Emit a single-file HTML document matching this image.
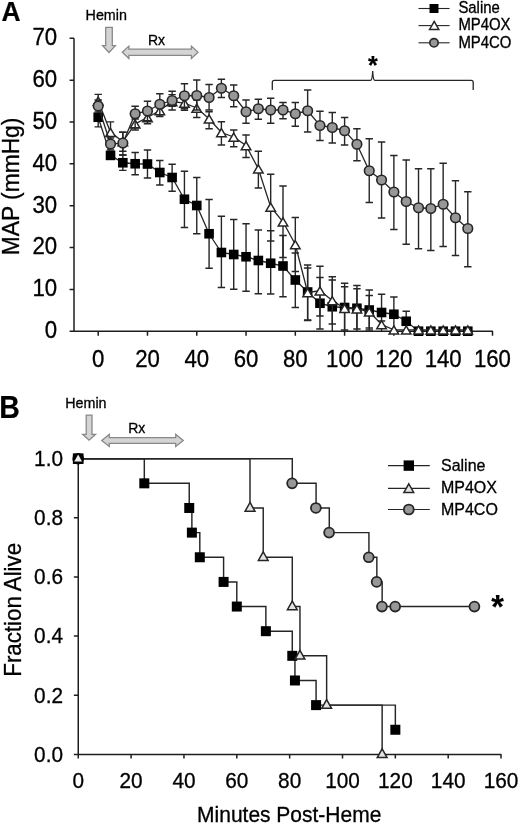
<!DOCTYPE html>
<html><head><meta charset="utf-8"><title>Figure</title>
<style>
html,body{margin:0;padding:0;background:#fff;}
body{width:520px;height:825px;position:relative;overflow:hidden;font-family:"Liberation Sans",sans-serif;}
</style></head><body>
<svg width="520" height="825" viewBox="0 0 520 825" style="position:absolute;left:0;top:0;will-change:transform">
<rect width="520" height="825" fill="#fff"/>
<path d="M74.0 38.3V331.25M69.6 331.25H492.5V335.65M69.60 331.25H74.0M69.60 289.40H74.0M69.60 247.55H74.0M69.60 205.70H74.0M69.60 163.85H74.0M69.60 122.00H74.0M69.60 80.15H74.0M69.60 38.30H74.0M98.20 331.25v4.5M147.48 331.25v4.5M196.76 331.25v4.5M246.04 331.25v4.5M295.32 331.25v4.5M344.60 331.25v4.5M393.88 331.25v4.5M443.16 331.25v4.5" fill="none" stroke="#1e1e1e" stroke-width="1.5" stroke-linejoin="round"/>
<path d="M98.20 107.60V126.90M94.50 107.60H101.90M94.50 126.90H101.90M110.52 152.50V158.30M106.82 152.50H114.22M106.82 158.30H114.22M122.84 155.00V170.40M119.14 155.00H126.54M119.14 170.40H126.54M135.16 152.50V174.75M131.46 152.50H138.86M131.46 174.75H138.86M147.48 150.00V178.00M143.78 150.00H151.18M143.78 178.00H151.18M159.80 160.50V185.00M156.10 160.50H163.50M156.10 185.00H163.50M172.12 164.25V191.25M168.42 164.25H175.82M168.42 191.25H175.82M184.44 171.25V227.50M180.74 171.25H188.14M180.74 227.50H188.14M196.76 177.50V233.75M193.06 177.50H200.46M193.06 233.75H200.46M209.08 199.50V268.25M205.38 199.50H212.78M205.38 268.25H212.78M221.40 216.25V287.50M217.70 216.25H225.10M217.70 287.50H225.10M233.72 219.50V289.25M230.02 219.50H237.42M230.02 289.25H237.42M246.04 223.75V291.25M242.34 223.75H249.74M242.34 291.25H249.74M258.36 230.00V293.75M254.66 230.00H262.06M254.66 293.75H262.06M270.68 230.75V294.00M266.98 230.75H274.38M266.98 294.00H274.38M283.00 235.50V296.75M279.30 235.50H286.70M279.30 296.75H286.70M295.32 253.00V307.50M291.62 253.00H299.02M291.62 307.50H299.02M307.64 268.00V320.50M303.94 268.00H311.34M303.94 320.50H311.34M319.96 277.50V329.00M316.26 277.50H323.66M316.26 329.00H323.66M332.28 280.00V331.00M328.58 280.00H335.98M344.60 283.25V331.00M340.90 283.25H348.30M356.92 285.50V331.00M353.22 285.50H360.62M369.24 290.00V330.00M365.54 290.00H372.94M365.54 330.00H372.94M381.56 294.25V331.00M377.86 294.25H385.26M393.88 297.00V331.00M390.18 297.00H397.58M406.20 311.25V331.00M402.50 311.25H409.90" fill="none" stroke="#262626" stroke-width="1.4"/>
<polyline points="98.20,117.25 110.52,155.40 122.84,162.75 135.16,163.75 147.48,164.00 159.80,172.50 172.12,177.50 184.44,199.25 196.76,205.50 209.08,233.75 221.40,252.50 233.72,254.50 246.04,256.75 258.36,260.50 270.68,263.25 283.00,266.00 295.32,280.00 307.64,292.00 319.96,303.25 332.28,306.75 344.60,307.50 356.92,308.25 369.24,310.00 381.56,312.50 393.88,314.25 406.20,321.25 418.52,331.20 430.84,331.20 443.16,331.20 455.48,331.20 467.80,331.20" fill="none" stroke="#262626" stroke-width="1.3"/>
<rect x="93.40" y="112.45" width="9.6" height="9.6" fill="#000"/>
<rect x="105.72" y="150.60" width="9.6" height="9.6" fill="#000"/>
<rect x="118.04" y="157.95" width="9.6" height="9.6" fill="#000"/>
<rect x="130.36" y="158.95" width="9.6" height="9.6" fill="#000"/>
<rect x="142.68" y="159.20" width="9.6" height="9.6" fill="#000"/>
<rect x="155.00" y="167.70" width="9.6" height="9.6" fill="#000"/>
<rect x="167.32" y="172.70" width="9.6" height="9.6" fill="#000"/>
<rect x="179.64" y="194.45" width="9.6" height="9.6" fill="#000"/>
<rect x="191.96" y="200.70" width="9.6" height="9.6" fill="#000"/>
<rect x="204.28" y="228.95" width="9.6" height="9.6" fill="#000"/>
<rect x="216.60" y="247.70" width="9.6" height="9.6" fill="#000"/>
<rect x="228.92" y="249.70" width="9.6" height="9.6" fill="#000"/>
<rect x="241.24" y="251.95" width="9.6" height="9.6" fill="#000"/>
<rect x="253.56" y="255.70" width="9.6" height="9.6" fill="#000"/>
<rect x="265.88" y="258.45" width="9.6" height="9.6" fill="#000"/>
<rect x="278.20" y="261.20" width="9.6" height="9.6" fill="#000"/>
<rect x="290.52" y="275.20" width="9.6" height="9.6" fill="#000"/>
<rect x="302.84" y="287.20" width="9.6" height="9.6" fill="#000"/>
<rect x="315.16" y="298.45" width="9.6" height="9.6" fill="#000"/>
<rect x="327.48" y="301.95" width="9.6" height="9.6" fill="#000"/>
<rect x="339.80" y="302.70" width="9.6" height="9.6" fill="#000"/>
<rect x="352.12" y="303.45" width="9.6" height="9.6" fill="#000"/>
<rect x="364.44" y="305.20" width="9.6" height="9.6" fill="#000"/>
<rect x="376.76" y="307.70" width="9.6" height="9.6" fill="#000"/>
<rect x="389.08" y="309.45" width="9.6" height="9.6" fill="#000"/>
<rect x="401.40" y="316.45" width="9.6" height="9.6" fill="#000"/>
<rect x="413.72" y="326.40" width="9.6" height="9.6" fill="#000"/>
<rect x="426.04" y="326.40" width="9.6" height="9.6" fill="#000"/>
<rect x="438.36" y="326.40" width="9.6" height="9.6" fill="#000"/>
<rect x="450.68" y="326.40" width="9.6" height="9.6" fill="#000"/>
<rect x="463.00" y="326.40" width="9.6" height="9.6" fill="#000"/>
<path d="M98.20 94.40V107.60M94.50 94.40H101.90M94.50 107.60H101.90M110.52 121.90V141.90M106.82 121.90H114.22M106.82 141.90H114.22M122.84 132.25V151.25M119.14 132.25H126.54M119.14 151.25H126.54M135.16 119.00V130.00M131.46 119.00H138.86M131.46 130.00H138.86M147.48 111.00V123.75M143.78 111.00H151.18M143.78 123.75H151.18M159.80 105.00V116.50M156.10 105.00H163.50M156.10 116.50H163.50M172.12 94.60V106.30M168.42 94.60H175.82M168.42 106.30H175.82M184.44 97.50V110.30M180.74 97.50H188.14M180.74 110.30H188.14M196.76 100.00V117.50M193.06 100.00H200.46M193.06 117.50H200.46M209.08 111.75V128.75M205.38 111.75H212.78M205.38 128.75H212.78M221.40 121.75V145.00M217.70 121.75H225.10M217.70 145.00H225.10M233.72 130.00V146.75M230.02 130.00H237.42M230.02 146.75H237.42M246.04 135.00V157.50M242.34 135.00H249.74M242.34 157.50H249.74M258.36 151.25V188.00M254.66 151.25H262.06M254.66 188.00H262.06M270.68 174.25V241.00M266.98 174.25H274.38M266.98 241.00H274.38M283.00 186.00V257.50M279.30 186.00H286.70M279.30 257.50H286.70M295.32 217.50V271.50M291.62 217.50H299.02M291.62 271.50H299.02M307.64 265.00V320.00M303.94 265.00H311.34M303.94 320.00H311.34M319.96 266.25V316.00M316.26 266.25H323.66M316.26 316.00H323.66M332.28 276.75V324.00M328.58 276.75H335.98M328.58 324.00H335.98M344.60 286.75V330.00M340.90 286.75H348.30M340.90 330.00H348.30M356.92 288.75V329.00M353.22 288.75H360.62M353.22 329.00H360.62M369.24 295.50V328.00M365.54 295.50H372.94M365.54 328.00H372.94M381.56 321.00V328.00M377.86 321.00H385.26M377.86 328.00H385.26" fill="none" stroke="#262626" stroke-width="1.4"/>
<polyline points="98.20,101.00 110.52,132.30 122.84,141.50 135.16,123.80 147.48,117.50 159.80,110.50 172.12,101.50 184.44,103.20 196.76,108.00 209.08,118.75 221.40,132.50 233.72,137.00 246.04,145.50 258.36,168.75 270.68,207.00 283.00,221.75 295.32,244.50 307.64,292.50 319.96,290.75 332.28,300.50 344.60,308.25 356.92,308.75 369.24,311.75 381.56,324.50 393.88,329.90 406.20,329.90 418.52,329.90 430.84,329.90 443.16,329.90 455.48,329.90 467.80,329.90" fill="none" stroke="#262626" stroke-width="1.3"/>
<path d="M98.20 97.03L102.95 105.13H93.45Z" fill="#fff" stroke="#262626" stroke-width="1.5" stroke-linejoin="miter"/>
<path d="M110.52 128.33L115.27 136.43H105.77Z" fill="#fff" stroke="#262626" stroke-width="1.5" stroke-linejoin="miter"/>
<path d="M122.84 137.53L127.59 145.63H118.09Z" fill="#fff" stroke="#262626" stroke-width="1.5" stroke-linejoin="miter"/>
<path d="M135.16 119.83L139.91 127.93H130.41Z" fill="#fff" stroke="#262626" stroke-width="1.5" stroke-linejoin="miter"/>
<path d="M147.48 113.53L152.23 121.63H142.73Z" fill="#fff" stroke="#262626" stroke-width="1.5" stroke-linejoin="miter"/>
<path d="M159.80 106.53L164.55 114.63H155.05Z" fill="#fff" stroke="#262626" stroke-width="1.5" stroke-linejoin="miter"/>
<path d="M172.12 97.53L176.87 105.63H167.37Z" fill="#fff" stroke="#262626" stroke-width="1.5" stroke-linejoin="miter"/>
<path d="M184.44 99.23L189.19 107.33H179.69Z" fill="#fff" stroke="#262626" stroke-width="1.5" stroke-linejoin="miter"/>
<path d="M196.76 104.03L201.51 112.13H192.01Z" fill="#fff" stroke="#262626" stroke-width="1.5" stroke-linejoin="miter"/>
<path d="M209.08 114.78L213.83 122.88H204.33Z" fill="#fff" stroke="#262626" stroke-width="1.5" stroke-linejoin="miter"/>
<path d="M221.40 128.53L226.15 136.63H216.65Z" fill="#fff" stroke="#262626" stroke-width="1.5" stroke-linejoin="miter"/>
<path d="M233.72 133.03L238.47 141.13H228.97Z" fill="#fff" stroke="#262626" stroke-width="1.5" stroke-linejoin="miter"/>
<path d="M246.04 141.53L250.79 149.63H241.29Z" fill="#fff" stroke="#262626" stroke-width="1.5" stroke-linejoin="miter"/>
<path d="M258.36 164.78L263.11 172.88H253.61Z" fill="#fff" stroke="#262626" stroke-width="1.5" stroke-linejoin="miter"/>
<path d="M270.68 203.03L275.43 211.13H265.93Z" fill="#fff" stroke="#262626" stroke-width="1.5" stroke-linejoin="miter"/>
<path d="M283.00 217.78L287.75 225.88H278.25Z" fill="#fff" stroke="#262626" stroke-width="1.5" stroke-linejoin="miter"/>
<path d="M295.32 240.53L300.07 248.63H290.57Z" fill="#fff" stroke="#262626" stroke-width="1.5" stroke-linejoin="miter"/>
<path d="M307.64 288.53L312.39 296.63H302.89Z" fill="#fff" stroke="#262626" stroke-width="1.5" stroke-linejoin="miter"/>
<path d="M319.96 286.78L324.71 294.88H315.21Z" fill="#fff" stroke="#262626" stroke-width="1.5" stroke-linejoin="miter"/>
<path d="M332.28 296.53L337.03 304.63H327.53Z" fill="#fff" stroke="#262626" stroke-width="1.5" stroke-linejoin="miter"/>
<path d="M344.60 304.28L349.35 312.38H339.85Z" fill="#fff" stroke="#262626" stroke-width="1.5" stroke-linejoin="miter"/>
<path d="M356.92 304.78L361.67 312.88H352.17Z" fill="#fff" stroke="#262626" stroke-width="1.5" stroke-linejoin="miter"/>
<path d="M369.24 307.78L373.99 315.88H364.49Z" fill="#fff" stroke="#262626" stroke-width="1.5" stroke-linejoin="miter"/>
<path d="M381.56 320.53L386.31 328.63H376.81Z" fill="#fff" stroke="#262626" stroke-width="1.5" stroke-linejoin="miter"/>
<path d="M393.88 325.93L398.63 334.03H389.13Z" fill="#fff" stroke="#262626" stroke-width="1.5" stroke-linejoin="miter"/>
<path d="M406.20 325.93L410.95 334.03H401.45Z" fill="#fff" stroke="#262626" stroke-width="1.5" stroke-linejoin="miter"/>
<path d="M418.52 325.93L423.27 334.03H413.77Z" fill="#fff" stroke="#262626" stroke-width="1.5" stroke-linejoin="miter"/>
<path d="M430.84 325.93L435.59 334.03H426.09Z" fill="#fff" stroke="#262626" stroke-width="1.5" stroke-linejoin="miter"/>
<path d="M443.16 325.93L447.91 334.03H438.41Z" fill="#fff" stroke="#262626" stroke-width="1.5" stroke-linejoin="miter"/>
<path d="M455.48 325.93L460.23 334.03H450.73Z" fill="#fff" stroke="#262626" stroke-width="1.5" stroke-linejoin="miter"/>
<path d="M467.80 325.93L472.55 334.03H463.05Z" fill="#fff" stroke="#262626" stroke-width="1.5" stroke-linejoin="miter"/>
<path d="M98.20 100.00V112.00M94.50 100.00H101.90M94.50 112.00H101.90M110.52 138.00V150.00M106.82 138.00H114.22M106.82 150.00H114.22M122.84 132.25V155.00M119.14 132.25H126.54M119.14 155.00H126.54M135.16 106.25V127.80M131.46 106.25H138.86M131.46 127.80H138.86M147.48 101.25V120.75M143.78 101.25H151.18M143.78 120.75H151.18M159.80 93.75V114.75M156.10 93.75H163.50M156.10 114.75H163.50M172.12 91.25V110.00M168.42 91.25H175.82M168.42 110.00H175.82M184.44 83.75V108.75M180.74 83.75H188.14M180.74 108.75H188.14M196.76 80.00V110.00M193.06 80.00H200.46M193.06 110.00H200.46M209.08 84.50V110.00M205.38 84.50H212.78M205.38 110.00H212.78M221.40 79.25V97.50M217.70 79.25H225.10M217.70 97.50H225.10M233.72 85.00V106.75M230.02 85.00H237.42M230.02 106.75H237.42M246.04 100.00V123.25M242.34 100.00H249.74M242.34 123.25H249.74M258.36 99.25V119.25M254.66 99.25H262.06M254.66 119.25H262.06M270.68 98.25V123.25M266.98 98.25H274.38M266.98 123.25H274.38M283.00 102.50V118.75M279.30 102.50H286.70M279.30 118.75H286.70M295.32 102.50V126.25M291.62 102.50H299.02M291.62 126.25H299.02M307.64 90.00V132.00M303.94 90.00H311.34M303.94 132.00H311.34M319.96 111.25V140.50M316.26 111.25H323.66M316.26 140.50H323.66M332.28 112.50V143.00M328.58 112.50H335.98M328.58 143.00H335.98M344.60 117.50V145.00M340.90 117.50H348.30M340.90 145.00H348.30M356.92 128.75V160.75M353.22 128.75H360.62M353.22 160.75H360.62M369.24 138.75V202.50M365.54 138.75H372.94M365.54 202.50H372.94M381.56 142.00V218.00M377.86 142.00H385.26M377.86 218.00H385.26M393.88 155.50V229.50M390.18 155.50H397.58M390.18 229.50H397.58M406.20 160.00V244.25M402.50 160.00H409.90M402.50 244.25H409.90M418.52 168.75V248.75M414.82 168.75H422.22M414.82 248.75H422.22M430.84 168.75V250.50M427.14 168.75H434.54M427.14 250.50H434.54M443.16 163.25V246.50M439.46 163.25H446.86M439.46 246.50H446.86M455.48 180.75V255.50M451.78 180.75H459.18M451.78 255.50H459.18M467.80 191.75V266.75M464.10 191.75H471.50M464.10 266.75H471.50" fill="none" stroke="#262626" stroke-width="1.4"/>
<polyline points="98.20,106.00 110.52,144.00 122.84,143.10 135.16,113.75 147.48,111.00 159.80,104.25 172.12,100.50 184.44,95.75 196.76,95.50 209.08,97.50 221.40,88.25 233.72,95.75 246.04,111.75 258.36,108.75 270.68,110.00 283.00,110.00 295.32,113.75 307.64,110.75 319.96,125.50 332.28,127.50 344.60,130.75 356.92,144.25 369.24,170.75 381.56,180.00 393.88,192.00 406.20,201.50 418.52,207.75 430.84,208.50 443.16,204.25 455.48,217.75 467.80,228.50" fill="none" stroke="#262626" stroke-width="1.3"/>
<circle cx="98.20" cy="106.00" r="4.8" fill="#979797" stroke="#262626" stroke-width="1.6"/>
<circle cx="110.52" cy="144.00" r="4.8" fill="#979797" stroke="#262626" stroke-width="1.6"/>
<circle cx="122.84" cy="143.10" r="4.8" fill="#979797" stroke="#262626" stroke-width="1.6"/>
<circle cx="135.16" cy="113.75" r="4.8" fill="#979797" stroke="#262626" stroke-width="1.6"/>
<circle cx="147.48" cy="111.00" r="4.8" fill="#979797" stroke="#262626" stroke-width="1.6"/>
<circle cx="159.80" cy="104.25" r="4.8" fill="#979797" stroke="#262626" stroke-width="1.6"/>
<circle cx="172.12" cy="100.50" r="4.8" fill="#979797" stroke="#262626" stroke-width="1.6"/>
<circle cx="184.44" cy="95.75" r="4.8" fill="#979797" stroke="#262626" stroke-width="1.6"/>
<circle cx="196.76" cy="95.50" r="4.8" fill="#979797" stroke="#262626" stroke-width="1.6"/>
<circle cx="209.08" cy="97.50" r="4.8" fill="#979797" stroke="#262626" stroke-width="1.6"/>
<circle cx="221.40" cy="88.25" r="4.8" fill="#979797" stroke="#262626" stroke-width="1.6"/>
<circle cx="233.72" cy="95.75" r="4.8" fill="#979797" stroke="#262626" stroke-width="1.6"/>
<circle cx="246.04" cy="111.75" r="4.8" fill="#979797" stroke="#262626" stroke-width="1.6"/>
<circle cx="258.36" cy="108.75" r="4.8" fill="#979797" stroke="#262626" stroke-width="1.6"/>
<circle cx="270.68" cy="110.00" r="4.8" fill="#979797" stroke="#262626" stroke-width="1.6"/>
<circle cx="283.00" cy="110.00" r="4.8" fill="#979797" stroke="#262626" stroke-width="1.6"/>
<circle cx="295.32" cy="113.75" r="4.8" fill="#979797" stroke="#262626" stroke-width="1.6"/>
<circle cx="307.64" cy="110.75" r="4.8" fill="#979797" stroke="#262626" stroke-width="1.6"/>
<circle cx="319.96" cy="125.50" r="4.8" fill="#979797" stroke="#262626" stroke-width="1.6"/>
<circle cx="332.28" cy="127.50" r="4.8" fill="#979797" stroke="#262626" stroke-width="1.6"/>
<circle cx="344.60" cy="130.75" r="4.8" fill="#979797" stroke="#262626" stroke-width="1.6"/>
<circle cx="356.92" cy="144.25" r="4.8" fill="#979797" stroke="#262626" stroke-width="1.6"/>
<circle cx="369.24" cy="170.75" r="4.8" fill="#979797" stroke="#262626" stroke-width="1.6"/>
<circle cx="381.56" cy="180.00" r="4.8" fill="#979797" stroke="#262626" stroke-width="1.6"/>
<circle cx="393.88" cy="192.00" r="4.8" fill="#979797" stroke="#262626" stroke-width="1.6"/>
<circle cx="406.20" cy="201.50" r="4.8" fill="#979797" stroke="#262626" stroke-width="1.6"/>
<circle cx="418.52" cy="207.75" r="4.8" fill="#979797" stroke="#262626" stroke-width="1.6"/>
<circle cx="430.84" cy="208.50" r="4.8" fill="#979797" stroke="#262626" stroke-width="1.6"/>
<circle cx="443.16" cy="204.25" r="4.8" fill="#979797" stroke="#262626" stroke-width="1.6"/>
<circle cx="455.48" cy="217.75" r="4.8" fill="#979797" stroke="#262626" stroke-width="1.6"/>
<circle cx="467.80" cy="228.50" r="4.8" fill="#979797" stroke="#262626" stroke-width="1.6"/>
<path d="M272.3 90V82.4Q272.3 80.4 274.3 80.4H370.4Q372.3 80.4 372.7 71Q373.1 80.4 375 80.4H471.2Q473.2 80.4 473.2 82.4V90" fill="none" stroke="#262626" stroke-width="1.3"/>
<path d="M105.7 27.4H112.3V45.6H115.4L109.0 52.5L102.6 45.6H105.7Z" fill="#d4d4d4" stroke="#878787" stroke-width="1.25"/>
<path d="M122.3 52.3L128.9 46.099999999999994V49.199999999999996H191.4V46.099999999999994L198 52.3L191.4 58.5V55.4H128.9V58.5Z" fill="#d4d4d4" stroke="#878787" stroke-width="1.25"/>
<path d="M418.5 8.5H449.6" stroke="#262626" stroke-width="1.1"/>
<path d="M418.5 25.6H449.6" stroke="#262626" stroke-width="1.1"/>
<path d="M418.5 42.8H449.6" stroke="#262626" stroke-width="1.1"/>
<rect x="429.50" y="4.00" width="9" height="9" fill="#000"/>
<path d="M434.20 21.38L438.80 29.38H429.60Z" fill="#fff" stroke="#262626" stroke-width="1.5" stroke-linejoin="miter"/>
<circle cx="434.00" cy="42.80" r="4.2" fill="#979797" stroke="#262626" stroke-width="1.6"/>
<path d="M78.25 458.70V755.4M73.85 754.4H501V758.4M73.85 754.40H78.25M73.85 695.26H78.25M73.85 636.12H78.25M73.85 576.98H78.25M73.85 517.84H78.25M73.85 458.70H78.25M78.25 754.4v4M131.10 754.4v4M183.95 754.4v4M236.80 754.4v4M289.65 754.4v4M342.50 754.4v4M395.35 754.4v4M448.20 754.4v4" fill="none" stroke="#1e1e1e" stroke-width="1.5" stroke-linejoin="round"/>
<path d="M78.25 458.70H144.31V483.34H189.24V507.98H191.88V532.62H199.81V557.27H223.59V581.91H236.80V606.55H265.87V631.19H292.29V655.83H294.94V680.48H316.08V705.12H395.35V729.76" fill="none" stroke="#262626" stroke-width="1.45"/>
<rect x="73.25" y="453.70" width="10" height="10" fill="#000"/>
<rect x="139.31" y="478.34" width="10" height="10" fill="#000"/>
<rect x="184.24" y="502.98" width="10" height="10" fill="#000"/>
<rect x="186.88" y="527.62" width="10" height="10" fill="#000"/>
<rect x="194.81" y="552.27" width="10" height="10" fill="#000"/>
<rect x="218.59" y="576.91" width="10" height="10" fill="#000"/>
<rect x="231.80" y="601.55" width="10" height="10" fill="#000"/>
<rect x="260.87" y="626.19" width="10" height="10" fill="#000"/>
<rect x="287.29" y="650.83" width="10" height="10" fill="#000"/>
<rect x="289.94" y="675.48" width="10" height="10" fill="#000"/>
<rect x="311.08" y="700.12" width="10" height="10" fill="#000"/>
<rect x="390.35" y="724.76" width="10" height="10" fill="#000"/>
<path d="M78.25 458.70H250.01V507.98H263.23V557.27H292.29V606.55H299.96V655.83H326.64V705.12H382.14V754.40" fill="none" stroke="#262626" stroke-width="1.45"/>
<path d="M250.01 502.48L254.91 511.18H245.11Z" fill="#e4e4e4" stroke="#262626" stroke-width="1.5" stroke-linejoin="miter"/>
<path d="M263.23 551.77L268.12 560.47H258.33Z" fill="#e4e4e4" stroke="#262626" stroke-width="1.5" stroke-linejoin="miter"/>
<path d="M292.29 601.05L297.19 609.75H287.39Z" fill="#e4e4e4" stroke="#262626" stroke-width="1.5" stroke-linejoin="miter"/>
<path d="M299.96 650.33L304.86 659.03H295.06Z" fill="#e4e4e4" stroke="#262626" stroke-width="1.5" stroke-linejoin="miter"/>
<path d="M326.64 699.62L331.54 708.32H321.75Z" fill="#e4e4e4" stroke="#262626" stroke-width="1.5" stroke-linejoin="miter"/>
<path d="M382.14 748.90L387.04 757.60H377.24Z" fill="#e4e4e4" stroke="#262626" stroke-width="1.5" stroke-linejoin="miter"/>
<path d="M78.25 458.70H292.29V483.34H316.08V507.98H329.29V532.62H368.93V557.27H376.85V581.91H382.14V606.55H474.62" fill="none" stroke="#262626" stroke-width="1.45"/>
<circle cx="292.09" cy="483.34" r="4.95" fill="#979797" stroke="#262626" stroke-width="1.8"/>
<circle cx="315.88" cy="507.98" r="4.95" fill="#979797" stroke="#262626" stroke-width="1.8"/>
<circle cx="329.09" cy="532.62" r="4.95" fill="#979797" stroke="#262626" stroke-width="1.8"/>
<circle cx="368.73" cy="557.27" r="4.95" fill="#979797" stroke="#262626" stroke-width="1.8"/>
<circle cx="376.65" cy="581.91" r="4.95" fill="#979797" stroke="#262626" stroke-width="1.8"/>
<circle cx="381.94" cy="606.55" r="4.95" fill="#979797" stroke="#262626" stroke-width="1.8"/>
<circle cx="395.15" cy="606.55" r="4.95" fill="#979797" stroke="#262626" stroke-width="1.8"/>
<circle cx="474.43" cy="606.55" r="4.95" fill="#979797" stroke="#262626" stroke-width="1.8"/>
<circle cx="78.15" cy="458.7" r="5.75" fill="#000"/>
<rect x="72.85000000000001" y="453.5" width="10.6" height="10.4" fill="#000"/>
<path d="M78.15 454.4L82.05000000000001 461.59999999999997H74.25Z" fill="#efefef"/>
<path d="M86.19999999999999 415H92.0V434.3H95.6L89.1 440.2L82.6 434.3H86.19999999999999Z" fill="#d4d4d4" stroke="#878787" stroke-width="1.25"/>
<path d="M101.7 440.4L109.3 434.4V437.5H175.70000000000002V434.4L183.3 440.4L175.70000000000002 446.4V443.29999999999995H109.3V446.4Z" fill="#d4d4d4" stroke="#878787" stroke-width="1.25"/>
<path d="M388 465.6H429.8" stroke="#262626" stroke-width="1.2"/>
<path d="M388 488.3H429.8" stroke="#262626" stroke-width="1.2"/>
<path d="M388 509.5H429.8" stroke="#262626" stroke-width="1.2"/>
<rect x="403.60" y="460.40" width="10.4" height="10.4" fill="#000"/>
<path d="M408.80 483.80L413.70 492.50H403.90Z" fill="#e4e4e4" stroke="#262626" stroke-width="1.5" stroke-linejoin="miter"/>
<circle cx="408.80" cy="509.50" r="4.95" fill="#979797" stroke="#262626" stroke-width="1.8"/>
<text transform="translate(1.50,21.00) scale(1,1.08)" font-family="Liberation Sans, sans-serif" font-size="26.4" font-weight="bold" text-anchor="start" fill="#000" stroke="#000" stroke-width="0.2" >A</text>
<text transform="translate(-0.70,418.30) scale(1,1.07)" font-family="Liberation Sans, sans-serif" font-size="28.5" font-weight="bold" text-anchor="start" fill="#000" stroke="#000" stroke-width="0.2" >B</text>
<text transform="translate(85.60,20.00) scale(1,1.05)" font-family="Liberation Sans, sans-serif" font-size="14.3" font-weight="normal" text-anchor="start" fill="#000" stroke="#000" stroke-width="0.3" >Hemin</text>
<text transform="translate(148.00,45.00) scale(1,1.05)" font-family="Liberation Sans, sans-serif" font-size="14" font-weight="normal" text-anchor="start" fill="#000" stroke="#000" stroke-width="0.3" >Rx</text>
<text transform="translate(65.20,408.00) scale(1,1.05)" font-family="Liberation Sans, sans-serif" font-size="14.3" font-weight="normal" text-anchor="start" fill="#000" stroke="#000" stroke-width="0.3" >Hemin</text>
<text transform="translate(128.20,433.00) scale(1,1.05)" font-family="Liberation Sans, sans-serif" font-size="14" font-weight="normal" text-anchor="start" fill="#000" stroke="#000" stroke-width="0.3" >Rx</text>
<text transform="translate(458.40,12.80) scale(1,1.05)" font-family="Liberation Sans, sans-serif" font-size="14.9" font-weight="normal" text-anchor="start" fill="#000" stroke="#000" stroke-width="0.3" >Saline</text>
<text transform="translate(458.40,30.00) scale(1,1.05)" font-family="Liberation Sans, sans-serif" font-size="14.9" font-weight="normal" text-anchor="start" fill="#000" stroke="#000" stroke-width="0.3" >MP4OX</text>
<text transform="translate(458.40,47.60) scale(1,1.05)" font-family="Liberation Sans, sans-serif" font-size="14.9" font-weight="normal" text-anchor="start" fill="#000" stroke="#000" stroke-width="0.3" >MP4CO</text>
<text transform="translate(441.00,471.00) scale(1,1.05)" font-family="Liberation Sans, sans-serif" font-size="16.0" font-weight="normal" text-anchor="start" fill="#000" stroke="#000" stroke-width="0.3" >Saline</text>
<text transform="translate(441.00,493.40) scale(1,1.05)" font-family="Liberation Sans, sans-serif" font-size="16.0" font-weight="normal" text-anchor="start" fill="#000" stroke="#000" stroke-width="0.3" >MP4OX</text>
<text transform="translate(441.00,515.20) scale(1,1.05)" font-family="Liberation Sans, sans-serif" font-size="16.0" font-weight="normal" text-anchor="start" fill="#000" stroke="#000" stroke-width="0.3" >MP4CO</text>
<text transform="translate(57.20,338.15) scale(1,1.05)" font-family="Liberation Sans, sans-serif" font-size="22.2" font-weight="normal" text-anchor="end" fill="#000" stroke="#000" stroke-width="0.3" >0</text>
<text transform="translate(57.20,296.30) scale(1,1.05)" font-family="Liberation Sans, sans-serif" font-size="22.2" font-weight="normal" text-anchor="end" fill="#000" stroke="#000" stroke-width="0.3" >10</text>
<text transform="translate(57.20,254.45) scale(1,1.05)" font-family="Liberation Sans, sans-serif" font-size="22.2" font-weight="normal" text-anchor="end" fill="#000" stroke="#000" stroke-width="0.3" >20</text>
<text transform="translate(57.20,212.60) scale(1,1.05)" font-family="Liberation Sans, sans-serif" font-size="22.2" font-weight="normal" text-anchor="end" fill="#000" stroke="#000" stroke-width="0.3" >30</text>
<text transform="translate(57.20,170.75) scale(1,1.05)" font-family="Liberation Sans, sans-serif" font-size="22.2" font-weight="normal" text-anchor="end" fill="#000" stroke="#000" stroke-width="0.3" >40</text>
<text transform="translate(57.20,128.90) scale(1,1.05)" font-family="Liberation Sans, sans-serif" font-size="22.2" font-weight="normal" text-anchor="end" fill="#000" stroke="#000" stroke-width="0.3" >50</text>
<text transform="translate(57.20,87.05) scale(1,1.05)" font-family="Liberation Sans, sans-serif" font-size="22.2" font-weight="normal" text-anchor="end" fill="#000" stroke="#000" stroke-width="0.3" >60</text>
<text transform="translate(57.20,45.20) scale(1,1.05)" font-family="Liberation Sans, sans-serif" font-size="22.2" font-weight="normal" text-anchor="end" fill="#000" stroke="#000" stroke-width="0.3" >70</text>
<text transform="translate(98.20,366.90) scale(1,1.05)" font-family="Liberation Sans, sans-serif" font-size="22.2" font-weight="normal" text-anchor="middle" fill="#000" stroke="#000" stroke-width="0.3" >0</text>
<text transform="translate(147.48,366.90) scale(1,1.05)" font-family="Liberation Sans, sans-serif" font-size="22.2" font-weight="normal" text-anchor="middle" fill="#000" stroke="#000" stroke-width="0.3" >20</text>
<text transform="translate(196.76,366.90) scale(1,1.05)" font-family="Liberation Sans, sans-serif" font-size="22.2" font-weight="normal" text-anchor="middle" fill="#000" stroke="#000" stroke-width="0.3" >40</text>
<text transform="translate(246.04,366.90) scale(1,1.05)" font-family="Liberation Sans, sans-serif" font-size="22.2" font-weight="normal" text-anchor="middle" fill="#000" stroke="#000" stroke-width="0.3" >60</text>
<text transform="translate(295.32,366.90) scale(1,1.05)" font-family="Liberation Sans, sans-serif" font-size="22.2" font-weight="normal" text-anchor="middle" fill="#000" stroke="#000" stroke-width="0.3" >80</text>
<text transform="translate(344.60,366.90) scale(1,1.05)" font-family="Liberation Sans, sans-serif" font-size="22.2" font-weight="normal" text-anchor="middle" fill="#000" stroke="#000" stroke-width="0.3" >100</text>
<text transform="translate(393.88,366.90) scale(1,1.05)" font-family="Liberation Sans, sans-serif" font-size="22.2" font-weight="normal" text-anchor="middle" fill="#000" stroke="#000" stroke-width="0.3" >120</text>
<text transform="translate(443.16,366.90) scale(1,1.05)" font-family="Liberation Sans, sans-serif" font-size="22.2" font-weight="normal" text-anchor="middle" fill="#000" stroke="#000" stroke-width="0.3" >140</text>
<text transform="translate(492.44,366.90) scale(1,1.05)" font-family="Liberation Sans, sans-serif" font-size="22.2" font-weight="normal" text-anchor="middle" fill="#000" stroke="#000" stroke-width="0.3" >160</text>
<text transform="translate(63.00,761.70) scale(1,1.05)" font-family="Liberation Sans, sans-serif" font-size="20.8" font-weight="normal" text-anchor="end" fill="#000" stroke="#000" stroke-width="0.3" >0.0</text>
<text transform="translate(63.00,702.56) scale(1,1.05)" font-family="Liberation Sans, sans-serif" font-size="20.8" font-weight="normal" text-anchor="end" fill="#000" stroke="#000" stroke-width="0.3" >0.2</text>
<text transform="translate(63.00,643.42) scale(1,1.05)" font-family="Liberation Sans, sans-serif" font-size="20.8" font-weight="normal" text-anchor="end" fill="#000" stroke="#000" stroke-width="0.3" >0.4</text>
<text transform="translate(63.00,584.28) scale(1,1.05)" font-family="Liberation Sans, sans-serif" font-size="20.8" font-weight="normal" text-anchor="end" fill="#000" stroke="#000" stroke-width="0.3" >0.6</text>
<text transform="translate(63.00,525.14) scale(1,1.05)" font-family="Liberation Sans, sans-serif" font-size="20.8" font-weight="normal" text-anchor="end" fill="#000" stroke="#000" stroke-width="0.3" >0.8</text>
<text transform="translate(63.00,466.00) scale(1,1.05)" font-family="Liberation Sans, sans-serif" font-size="20.8" font-weight="normal" text-anchor="end" fill="#000" stroke="#000" stroke-width="0.3" >1.0</text>
<text transform="translate(78.25,788.40) scale(1,1.05)" font-family="Liberation Sans, sans-serif" font-size="20.8" font-weight="normal" text-anchor="middle" fill="#000" stroke="#000" stroke-width="0.3" >0</text>
<text transform="translate(131.10,788.40) scale(1,1.05)" font-family="Liberation Sans, sans-serif" font-size="20.8" font-weight="normal" text-anchor="middle" fill="#000" stroke="#000" stroke-width="0.3" >20</text>
<text transform="translate(183.95,788.40) scale(1,1.05)" font-family="Liberation Sans, sans-serif" font-size="20.8" font-weight="normal" text-anchor="middle" fill="#000" stroke="#000" stroke-width="0.3" >40</text>
<text transform="translate(236.80,788.40) scale(1,1.05)" font-family="Liberation Sans, sans-serif" font-size="20.8" font-weight="normal" text-anchor="middle" fill="#000" stroke="#000" stroke-width="0.3" >60</text>
<text transform="translate(289.65,788.40) scale(1,1.05)" font-family="Liberation Sans, sans-serif" font-size="20.8" font-weight="normal" text-anchor="middle" fill="#000" stroke="#000" stroke-width="0.3" >80</text>
<text transform="translate(342.50,788.40) scale(1,1.05)" font-family="Liberation Sans, sans-serif" font-size="20.8" font-weight="normal" text-anchor="middle" fill="#000" stroke="#000" stroke-width="0.3" >100</text>
<text transform="translate(395.35,788.40) scale(1,1.05)" font-family="Liberation Sans, sans-serif" font-size="20.8" font-weight="normal" text-anchor="middle" fill="#000" stroke="#000" stroke-width="0.3" >120</text>
<text transform="translate(448.20,788.40) scale(1,1.05)" font-family="Liberation Sans, sans-serif" font-size="20.8" font-weight="normal" text-anchor="middle" fill="#000" stroke="#000" stroke-width="0.3" >140</text>
<text transform="translate(501.05,788.40) scale(1,1.05)" font-family="Liberation Sans, sans-serif" font-size="20.8" font-weight="normal" text-anchor="middle" fill="#000" stroke="#000" stroke-width="0.3" >160</text>
<text transform="translate(289.20,822.40) scale(1,1.05)" font-family="Liberation Sans, sans-serif" font-size="21.0" font-weight="normal" text-anchor="middle" fill="#000" stroke="#000" stroke-width="0.3" >Minutes Post-Heme</text>
<text transform="translate(19.2,186.4) rotate(-90) scale(1,1.04)" font-family="Liberation Sans, sans-serif" font-size="22.8" text-anchor="middle" fill="#000" stroke="#000" stroke-width="0.3">MAP (mmHg)</text>
<text transform="translate(20.8,609.8) rotate(-90) scale(1,1.04)" font-family="Liberation Sans, sans-serif" font-size="22.3" text-anchor="middle" fill="#000" stroke="#000" stroke-width="0.3">Fraction Alive</text>
<text transform="translate(372.80,73.60) scale(1,1.0)" font-family="Liberation Sans, sans-serif" font-size="25" font-weight="bold" text-anchor="middle" fill="#000" stroke="#000" stroke-width="0.2" >*</text>
<text transform="translate(497.70,618.10) scale(1,1.0)" font-family="Liberation Sans, sans-serif" font-size="32.5" font-weight="bold" text-anchor="middle" fill="#000" stroke="#000" stroke-width="0.2" >*</text>
</svg>
</body></html>
